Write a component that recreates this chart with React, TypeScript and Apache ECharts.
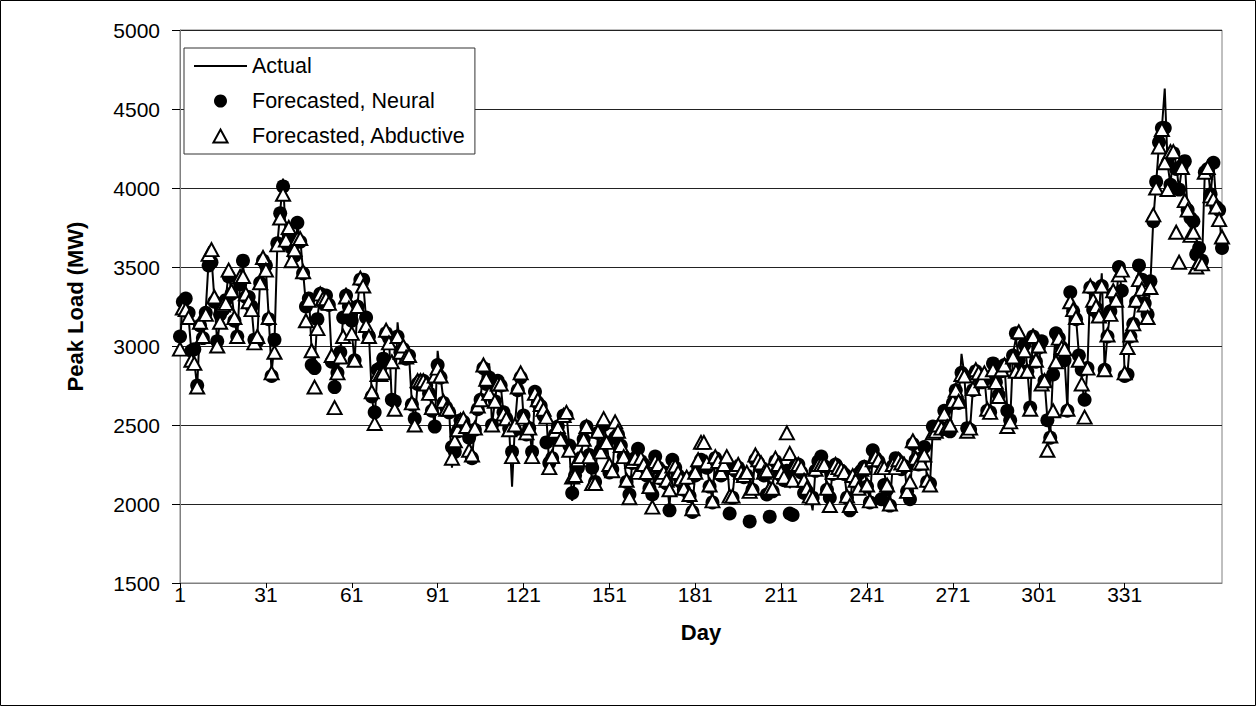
import React, { useEffect, useRef } from "react";
import * as echarts from "echarts";

const days: string[] = Array.from({ length: 365 }, (_, i) => String(i + 1));

const actual: number[] = [
  3010, 3300, 3250, 3180, 2960, 2900, 2740, 3140, 3060, 3230,
  3540, 3560, 3300, 3020, 3160, 3250, 3300, 3470, 3330, 3180,
  3050, 3400, 3520, 3340, 3300, 3240, 3030, 3050, 3420, 3570,
  3490, 3180, 2830, 3020, 3640, 3850, 4060, 3660, 3720, 3590,
  3560, 3760, 3680, 3470, 3260, 3340, 2960, 2870, 3180, 3320,
  3290, 3310, 3270, 2920, 2740, 2820, 2960, 3180, 3370, 3240,
  3090, 2900, 3260, 3440, 3400, 3170, 3070, 2690, 2530, 2860,
  2830, 2920, 3090, 3050, 2650, 2620, 3150, 2970, 2990, 2930,
  2940, 2640, 2520, 2760, 2780, 2790, 2760, 2700, 2610, 2500,
  2970, 2810, 2660, 2610, 2600, 2230, 2380, 2460, 2530, 2550,
  2480, 2420, 2290, 2480, 2600, 2660, 2880, 2770, 2890, 2500,
  2650, 2790, 2760, 2570, 2540, 2470, 2110, 2500, 2720, 2830,
  2550, 2450, 2480, 2320, 2710, 2660, 2620, 2580, 2550, 2240,
  2300, 2450, 2490, 2420, 2560, 2580, 2360, 2020, 2170, 2280,
  2300, 2420, 2490, 2300, 2140, 2130, 2440, 2330, 2530, 2390,
  2250, 2200, 2430, 2460, 2370, 2300, 2150, 2050, 2270, 2290,
  2340, 2280, 2250, 2200, 2110, 2060, 2290, 2250, 2170, 2200,
  2150, 1980, 2270, 2240, 2200, 2160, 2100, 2170, 2060, 1980,
  2200, 2250, 2300, 2260, 2250, 2120, 2030, 2300, 2270, 2200,
  2250, 2280, 2050, 2050, 2230, 2250, 2200, 2180, 2200, 2080,
  2100, 2300, 2270, 2250, 2200, 2210, 2050, 2100, 2290, 2250,
  2200, 2170, 2230, 2100, 2150, 2250, 2250, 2230, 2150, 2100,
  2050, 1960, 2220, 2280, 2300, 2250, 2100, 2050, 2200, 2250,
  2230, 2220, 2200, 2050, 1980, 2180, 2150, 2200, 2220, 2230,
  2120, 2020, 2320, 2300, 2280, 2230, 2200, 2100, 2000, 2250,
  2290, 2280, 2230, 2250, 2080, 2040, 2380, 2290, 2260, 2300,
  2350, 2150, 2130, 2480, 2460, 2500, 2480, 2590, 2490, 2470,
  2650, 2720, 2650, 2950, 2820, 2470, 2480, 2730, 2860, 2830,
  2780, 2800, 2600, 2580, 2870, 2780, 2700, 2850, 2880, 2600,
  2520, 2950, 3050, 2930, 2850, 3060, 2850, 2620, 3110, 2920,
  3000, 2830, 2780, 2540, 2430, 2850, 3110, 3050, 3000, 2920,
  2600, 3340, 3230, 3180, 2950, 2800, 2620, 2860, 3390, 3270,
  3250, 3200, 3460, 2850, 3070, 3220, 3350, 3300, 3480, 3350,
  2820, 2830, 3060, 3150, 3290, 3520, 3430, 3300, 3200, 3400,
  3800, 4030, 4280, 4380, 4630, 4150, 4020, 4230, 4150, 3990,
  4130, 4170, 3850, 3750, 3800, 3550, 3600, 3520, 4100, 4150,
  3950, 4160, 3900, 3860, 3600,
];

const neural: number[] = [
  3060, 3280, 3300, 3210, 2970, 2980, 2750, 3130, 3050, 3210,
  3510, 3530, 3280, 3030, 3200, 3230, 3290, 3440, 3330, 3160,
  3060, 3390, 3540, 3310, 3310, 3250, 3040, 3030, 3400, 3540,
  3510, 3170, 2810, 3040, 3650, 3840, 4010, 3650, 3700, 3620,
  3570, 3780, 3660, 3460, 3250, 3300, 2880, 2860, 3170, 3330,
  3270, 3320, 3260, 2900, 2740, 2830, 2960, 3180, 3320, 3250,
  3160, 2910, 3250, 3420, 3420, 3180, 3060, 2680, 2580, 2850,
  2860, 2920, 3080, 3050, 2660, 2650, 3060, 2960, 2980, 2920,
  2940, 2630, 2540, 2760, 2780, 2780, 2750, 2700, 2590, 2490,
  2880, 2800, 2640, 2610, 2580, 2360, 2330, 2460, 2530, 2520,
  2470, 2420, 2290, 2470, 2600, 2660, 2860, 2760, 2800, 2500,
  2650, 2780, 2750, 2580, 2540, 2480, 2330, 2470, 2720, 2800,
  2560, 2440, 2480, 2330, 2710, 2640, 2620, 2560, 2390, 2260,
  2290, 2440, 2490, 2410, 2560, 2560, 2370, 2070, 2180, 2230,
  2290, 2410, 2490, 2310, 2230, 2140, 2450, 2340, 2500, 2390,
  2200, 2220, 2420, 2440, 2370, 2300, 2140, 2060, 2260, 2290,
  2350, 2270, 2250, 2180, 2100, 2060, 2300, 2230, 2160, 2200,
  2130, 1960, 2280, 2230, 2180, 2140, 2090, 2160, 2050, 1950,
  2180, 2230, 2280, 2250, 2230, 2110, 2010, 2290, 2260, 2180,
  2230, 2260, 1940, 2040, 2210, 2230, 2180, 2170, 2180, 1890,
  2090, 2280, 2260, 2230, 2180, 2060, 1920, 2080, 2270, 2220,
  2180, 2150, 2210, 1940, 1930, 2240, 2250, 2200, 2070, 2080,
  2040, 2040, 2210, 2270, 2300, 2240, 2090, 2040, 2190, 2250,
  2220, 2210, 2190, 2040, 1960, 2170, 2140, 2190, 2210, 2235,
  2110, 2010, 2340, 2290, 2270, 2030, 2120, 2090, 1990, 2240,
  2290, 2270, 2220, 2240, 2080, 2030, 2380, 2280, 2250, 2290,
  2360, 2140, 2130, 2490, 2450, 2490, 2470, 2590, 2480, 2460,
  2640, 2720, 2640, 2830, 2810, 2480, 2470, 2720, 2840, 2810,
  2770, 2790, 2590, 2580, 2890, 2770, 2690, 2840, 2880, 2590,
  2530, 2940, 3080, 2910, 2840, 3010, 2840, 2610, 3060, 2900,
  2990, 3030, 2780, 2530, 2420, 2820, 3080, 3050, 2990, 2910,
  2590, 3340, 3220, 3170, 2940, 2850, 2660, 2860, 3370, 3230,
  3240, 3190, 3380, 2850, 3060, 3220, 3330, 3290, 3500, 3350,
  2810, 2820, 3060, 3140, 3280, 3510, 3420, 3270, 3200, 3410,
  3790, 4040, 4290, 4380, 4380, 4160, 4020, 4220, 4120, 3990,
  4140, 4170, 3860, 3810, 3790, 3580, 3620, 3540, 4100, 4120,
  3960, 4160, 3880, 3860, 3620,
];

const abductive: number[] = [
  2980, 3240, 3230, 3180, 2910, 2890, 2740, 3150, 3060, 3200,
  3580, 3610, 3310, 3000, 3150, 3260, 3270, 3480, 3350, 3180,
  3060, 3440, 3440, 3330, 3280, 3230, 3020, 3060, 3400, 3560,
  3480, 3180, 2830, 2960, 3640, 3810, 3960, 3670, 3750, 3540,
  3610, 3680, 3680, 3470, 3160, 3290, 2970, 2740, 3110, 3330,
  3300, 3300, 3270, 2940, 2610, 2830, 2930, 3060, 3310, 3240,
  3080, 2910, 3250, 3430, 3380, 3130, 3060, 2710, 2510, 2820,
  2820, 2830, 3100, 3020, 2900, 2600, 3060, 2960, 3000, 2930,
  2940, 2640, 2500, 2780, 2780, 2780, 2760, 2700, 2610, 2810,
  2860, 2810, 2650, 2600, 2600, 2290, 2400, 2470, 2530, 2540,
  2490, 2340, 2310, 2480, 2620, 2660, 2880, 2790, 2700, 2500,
  2650, 2760, 2760, 2570, 2540, 2470, 2300, 2500, 2740, 2830,
  2550, 2450, 2480, 2300, 2700, 2660, 2630, 2600, 2550, 2230,
  2300, 2460, 2490, 2410, 2560, 2580, 2340, 2170, 2180, 2280,
  2300, 2410, 2490, 2300, 2130, 2130, 2460, 2330, 2540, 2390,
  2250, 2210, 2520, 2460, 2370, 2300, 2150, 2040, 2270, 2290,
  2200, 2290, 2250, 2200, 2110, 1980, 2270, 2250, 2170, 2200,
  2150, 2090, 2240, 2240, 2200, 2160, 2100, 2170, 2060, 1970,
  2200, 2280, 2390, 2390, 2260, 2120, 2020, 2300, 2270, 2200,
  2250, 2300, 2050, 2050, 2230, 2250, 2200, 2180, 2200, 2080,
  2100, 2310, 2280, 2260, 2200, 2210, 2100, 2100, 2290, 2250,
  2200, 2170, 2450, 2320, 2150, 2250, 2250, 2230, 2150, 2100,
  2050, 2040, 2220, 2250, 2250, 2250, 2100, 1990, 2200, 2250,
  2230, 2220, 2200, 2050, 1990, 2180, 2150, 2100, 2220, 2230,
  2120, 2020, 2280, 2300, 2280, 2230, 2230, 2120, 2000, 2250,
  2230, 2280, 2260, 2250, 2080, 2140, 2400, 2290, 2260, 2260,
  2310, 2150, 2120, 2450, 2460, 2500, 2480, 2570, 2490, 2500,
  2650, 2720, 2650, 2820, 2810, 2460, 2480, 2730, 2850, 2830,
  2780, 2830, 2600, 2580, 2850, 2770, 2680, 2850, 2880, 2490,
  2520, 2930, 2840, 3090, 2840, 2970, 2840, 2600, 3060, 2910,
  3000, 2760, 2780, 2340, 2430, 2590, 2900, 3050, 2990, 2980,
  2600, 3280, 3230, 3180, 2910, 2760, 2550, 2860, 3380, 3290,
  3250, 3190, 3380, 2850, 3070, 3200, 3350, 3290, 3450, 3480,
  2830, 2990, 3070, 3140, 3290, 3420, 3360, 3260, 3180, 3370,
  3830, 4000, 4260, 4370, 4160, 3990, 4230, 4230, 3720, 3530,
  4130, 3920, 3860, 3700, 3720, 3500, 3530, 3520, 4100, 4130,
  3950, 3930, 3880, 3800, 3690,
];

const FONT = "'Liberation Sans', Arial, sans-serif";

export default function App() {
  const ref = useRef<HTMLDivElement>(null);
  useEffect(() => {
    document.body.style.margin = "0";
    const chart = echarts.init(ref.current!, null, { renderer: "svg" });
    chart.setOption({
      animation: false,
      backgroundColor: "#fff",
      textStyle: { fontFamily: FONT, color: "#000" },
      grid: {
        left: 180,
        top: 30,
        right: 35,
        bottom: 124,
        show: true,
        borderColor: "#808080",
        borderWidth: 1,
        backgroundColor: "transparent",
      },
      legend: {
        orient: "vertical",
        left: 184,
        top: 48,
        padding: [7, 9, 7, 10],
        itemGap: 13,
        itemWidth: 53,
        itemHeight: 13,
        symbolKeepAspect: true,
        backgroundColor: "#fff",
        borderColor: "#333",
        borderWidth: 1,
        textStyle: { fontSize: 21.5, color: "#000", fontFamily: FONT },
        data: [
          { name: "Actual", icon: "path://M0,0L53,0L53,2L0,2Z", itemStyle: { color: "#000", borderWidth: 0 } },
          { name: "Forecasted, Neural", icon: "circle" },
          { name: "Forecasted, Abductive", icon: "path://M6,0L12,11L0,11Z" },
        ],
      },
      xAxis: {
        type: "category",
        data: days,
        boundaryGap: false,
        name: "Day",
        nameLocation: "middle",
        nameGap: 38,
        nameTextStyle: { fontSize: 22, fontWeight: "bold", color: "#000", fontFamily: FONT },
        axisLine: { show: true, lineStyle: { color: "#808080", width: 1 } },
        axisTick: {
          show: true,
          interval: (i: number) => i % 30 === 0 && i <= 330,
          length: 5,
          lineStyle: { color: "#000" },
        },
        axisLabel: {
          interval: (i: number) => i % 30 === 0 && i <= 330,
          fontSize: 21,
          color: "#000",
          margin: 1,
          fontFamily: FONT,
        },
        splitLine: { show: false },
      },
      yAxis: {
        type: "value",
        min: 1500,
        max: 5000,
        interval: 500,
        name: "Peak Load (MW)",
        nameLocation: "middle",
        nameGap: 94,
        nameTextStyle: { fontSize: 22, fontWeight: "bold", color: "#000", fontFamily: FONT },
        axisLine: { show: true, lineStyle: { color: "#808080", width: 1 } },
        axisTick: { show: true, length: 8, lineStyle: { color: "#000" } },
        axisLabel: {
          fontSize: 21,
          color: "#000",
          margin: 20,
          fontFamily: FONT,
          formatter: (v: number) => String(v),
        },
        splitLine: { show: true, lineStyle: { color: "#222", width: 1 } },
      },
      series: [
        {
          name: "Actual",
          type: "line",
          data: actual,
          symbol: "none",
          showSymbol: false,
          lineStyle: { color: "#000", width: 2 },
          itemStyle: { color: "#000" },
          z: 2,
        },
        {
          name: "Forecasted, Neural",
          type: "scatter",
          data: neural,
          symbol: "circle",
          symbolSize: 14,
          itemStyle: { color: "#000", opacity: 1 },
          z: 3,
        },
        {
          name: "Forecasted, Abductive",
          type: "scatter",
          data: abductive,
          symbol: "triangle",
          symbolSize: [14, 13],
          itemStyle: { color: "#fff", borderColor: "#000", borderWidth: 2, opacity: 1 },
          z: 4,
        },
      ],
      graphic: [
        {
          type: "rect",
          shape: { x: 0.5, y: 0.5, width: 1255, height: 705 },
          style: { fill: "none", stroke: "#000", lineWidth: 1 },
          silent: true,
          z: 100,
        },
      ],
    });
    return () => chart.dispose();
  }, []);
  return <div ref={ref} style={{ width: 1257, height: 707 }} />;
}
